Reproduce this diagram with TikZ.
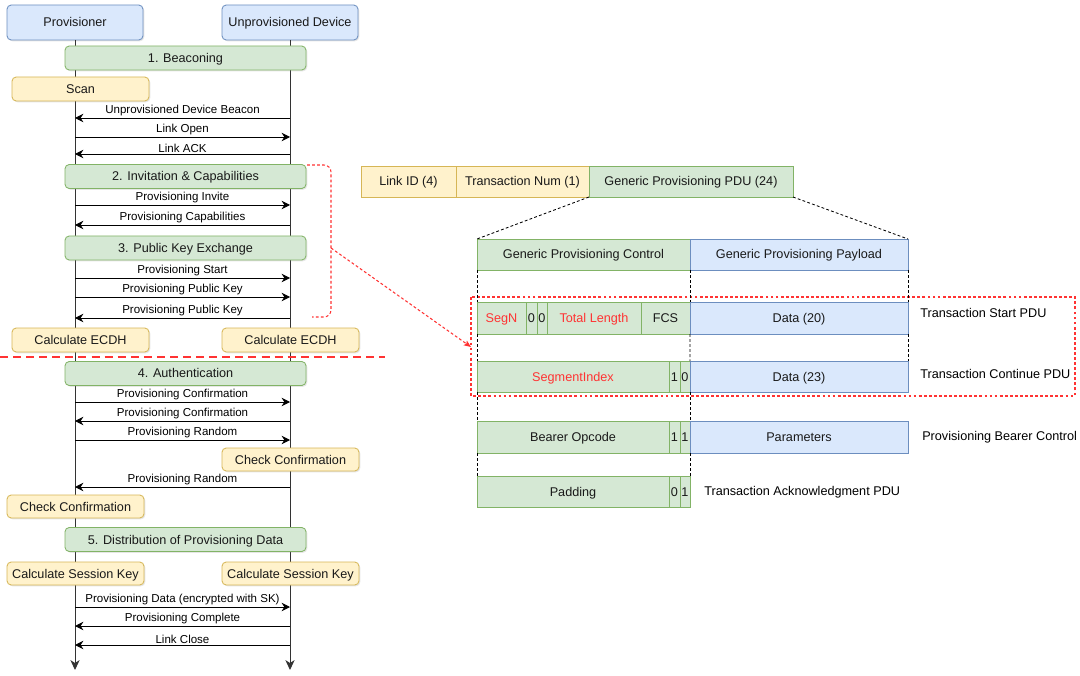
\documentclass[tikz,border=0pt]{standalone}
\usepackage{fontspec}
\setmainfont{Liberation Sans}
\usetikzlibrary{arrows.meta,shadows}

\definecolor{bluefill}{HTML}{DAE8FC}
\definecolor{bluedraw}{HTML}{6C8EBF}
\definecolor{greenfill}{HTML}{D5E8D4}
\definecolor{greendraw}{HTML}{82B366}
\definecolor{yellowfill}{HTML}{FFF2CC}
\definecolor{yellowdraw}{HTML}{D6B656}
\definecolor{markred}{HTML}{FF3333}
\definecolor{lifegray}{HTML}{333333}

\tikzset{
  sz/.style 2 args={minimum width=#1*0.025cm, minimum height=#2*0.025cm},
  boxbase/.style={inner sep=0pt, outer sep=0pt, line width=0.6pt, font=\fontsize{9}{10}\selectfont, text=black!90,
    text height=0.72em, text depth=0.08em,
    drop shadow={shadow xshift=0.9pt, shadow yshift=-0.9pt, opacity=0.2}},
  actor/.style={boxbase, draw=bluedraw, fill=bluefill, rounded corners=3pt},
  phase/.style={boxbase, draw=greendraw, fill=greenfill, rounded corners=3pt},
  action/.style={boxbase, draw=yellowdraw, fill=yellowfill, rounded corners=3pt},
  ycell/.style={boxbase, draw=yellowdraw, fill=yellowfill},
  gcell/.style={boxbase, draw=greendraw, fill=greenfill},
  bcell/.style={boxbase, draw=bluedraw, fill=bluefill},
  life/.style={draw=lifegray, line width=0.7pt, -{Stealth[length=7pt,width=6.5pt,inset=2pt]}},
  msg/.style={draw=black, line width=0.6pt, -{Stealth[length=6pt,width=6pt,inset=2pt]}},
  msglbl/.style={font=\fontsize{8.2}{9}\selectfont, inner sep=1pt},
  guide/.style={draw=black, line width=0.6pt, dash pattern=on 2pt off 1.6pt},
  redmark/.style={draw=markred, line width=0.75pt, dash pattern=on 2pt off 1.6pt},
  sepline/.style={draw=markred, line width=1.4pt, dash pattern=on 5.7pt off 3.6pt},
  rowlbl/.style={font=\fontsize{9}{10}\selectfont, anchor=west, inner sep=0pt},
}

\begin{document}
\begin{tikzpicture}[x=0.025cm, y=-0.025cm]
\useasboundingbox (0,0) rectangle (1080,676);

% Participants and lifelines
\node[actor, sz={136}{35}] (pv) at (75,22.5) {Provisioner};
\node[actor, sz={136}{35}] (ud) at (290,22.5) {Unprovisioned Device};
\coordinate (pvEnd) at (75,670);
\coordinate (udEnd) at (290,670);
\draw[life] (pv.south) -- (pvEnd);
\draw[life] (ud.south) -- (udEnd);

% Phases
\node[phase, sz={241}{24}] (ph1) at (185.5,58) {1. Beaconing};
\node[phase, sz={241}{24}] (ph2) at (185.5,176.5) {2. Invitation \& Capabilities};
\node[phase, sz={241}{24}] (ph3) at (185.5,248) {3. Public Key Exchange};
\node[phase, sz={241}{24}] (ph4) at (185.5,373.5) {4. Authentication};
\node[phase, sz={241}{24}] (ph5) at (185.5,539.5) {5. Distribution of Provisioning Data};

% Local actions
\node[action, sz={137}{24}] (scan) at (80.5,89) {Scan};
\node[action, sz={137}{24}] (ecdhP) at (80.5,340) {Calculate ECDH};
\node[action, sz={137}{24}] (ecdhD) at (290.5,340) {Calculate ECDH};
\node[action, sz={137}{23}] (chkD) at (290.5,459.5) {Check Confirmation};
\node[action, sz={137}{23}] (chkP) at (75.5,506.5) {Check Confirmation};
\node[action, sz={137}{23}] (skP) at (75.5,573.5) {Calculate Session Key};
\node[action, sz={137}{23}] (skD) at (290.5,573.5) {Calculate Session Key};

% Messages: provisioner -> device
\foreach \yy/\txt in {137/Link Open, 205/Provisioning Invite, 278/Provisioning Start,
    297/Provisioning Public Key, 402/Provisioning Confirmation, 440/Provisioning Random,
    607/Provisioning Data (encrypted with SK)}
  \draw[msg] (pv |- 0,\yy) -- (ud |- 0,\yy) node[msglbl, midway, above] (mR\yy) {\txt};

% Messages: device -> provisioner
\foreach \yy/\txt in {118/Unprovisioned Device Beacon, 154/Link ACK, 225/Provisioning Capabilities,
    318/Provisioning Public Key, 421/Provisioning Confirmation, 487/Provisioning Random,
    626/Provisioning Complete, 645/Link Close}
  \draw[msg] (ud |- 0,\yy) -- (pv |- 0,\yy) node[msglbl, midway, above] (mL\yy) {\txt};

% Separator after key exchange
\draw[sepline] (0,357) -- (385,357);

% Advertising bearer PDU
\node[ycell, sz={95}{31}] (lid) at (408.5,181.5) {Link ID (4)};
\node[ycell, sz={133}{31}] (tnum) at (522.5,181.5) {Transaction Num (1)};
\node[gcell, sz={204}{31}] (gpdu) at (691,181.5) {Generic Provisioning PDU (24)};

% Generic provisioning PDU
\node[gcell, sz={213}{31}] (gpc) at (583.5,254.5) {Generic Provisioning Control};
\node[bcell, sz={218}{31}] (gpp) at (799,254.5) {Generic Provisioning Payload};

% Group of the segmented PDUs
\draw[redmark] (471,297) rectangle (1075,396);
\coordinate (segGrpW) at (471,347);

% Transaction Start PDU
\node[gcell, sz={49}{32}, text=markred] (segn) at (501.5,318) {SegN};
\node[gcell, sz={11}{32}] (sZa) at (531.5,318) {0};
\node[gcell, sz={10}{32}] (sZb) at (542,318) {0};
\node[gcell, sz={94}{32}, text=markred] (tlen) at (594,318) {Total Length};
\node[gcell, sz={49}{32}] (fcs) at (665.5,318) {FCS};
\node[bcell, sz={218}{32}] (dStart) at (799,318) {Data (20)};

% Transaction Continue PDU
\node[gcell, sz={192}{31}, text=markred] (sidx) at (573,376.5) {SegmentIndex};
\node[gcell, sz={11}{31}] (cOne) at (674.5,376.5) {1};
\node[gcell, sz={10}{31}] (cZero) at (685,376.5) {0};
\node[bcell, sz={218}{31}] (dCont) at (799,376.5) {Data (23)};

% Provisioning Bearer Control
\node[gcell, sz={192}{32}] (bop) at (573,437) {Bearer Opcode};
\node[gcell, sz={11}{32}] (bOneA) at (674.5,437) {1};
\node[gcell, sz={10}{32}] (bOneB) at (685,437) {1};
\node[bcell, sz={218}{32}] (bpar) at (799,437) {Parameters};

% Transaction Acknowledgment PDU
\node[gcell, sz={192}{31}] (pad) at (573,491.5) {Padding};
\node[gcell, sz={11}{31}] (aZero) at (674.5,491.5) {0};
\node[gcell, sz={10}{31}] (aOne) at (685,491.5) {1};

% Row labels
\node[rowlbl] (lStart) at (920,313) {Transaction Start PDU};
\node[rowlbl] (lCont) at (920,374) {Transaction Continue PDU};
\node[rowlbl] (lBear) at (922,437) {Provisioning Bearer Control};
\node[rowlbl] (lAck) at (704,492) {Transaction Acknowledgment PDU};

% Guide lines between the layouts
\draw[guide] (gpdu.south west) -- (gpc.north west);
\draw[guide] (gpdu.south east) -- (gpp.north east);
\draw[guide] (gpc.south west) -- (segn.north west);
\draw[guide] (segn.south west) -- (sidx.north west);
\draw[guide] (sidx.south west) -- (bop.north west);
\draw[guide] (bop.south west) -- (pad.north west);
\draw[guide] (gpc.south east) -- (fcs.north east);
\draw[guide] (fcs.south east) -- (cZero.north east);
\draw[guide] (cZero.south east) -- (bOneB.north east);
\draw[guide] (bOneB.south east) -- (aOne.north east);
\draw[guide] (gpp.south east) -- (dStart.north east);
\draw[guide] (dStart.south east) -- (dCont.north east);

% Bracket over phases 2 and 3, pointing at the segmented PDUs
\coordinate (brkTop) at (307,165);
\coordinate (brkBot) at (312,317);
\coordinate (brkMid) at (331,248);
\draw[redmark, rounded corners=5pt] (brkTop) -- (331,165) -- (331,317) -- (brkBot);
\draw[redmark, -{Stealth[length=5pt,width=4pt,inset=1pt]}] (brkMid) -- (segGrpW);

\end{tikzpicture}
\end{document}
